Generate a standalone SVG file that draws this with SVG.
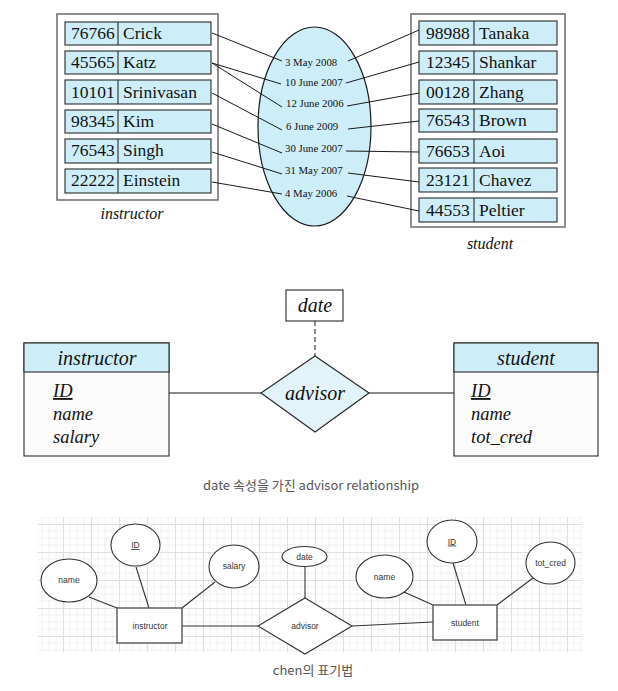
<svg xmlns="http://www.w3.org/2000/svg" width="618" height="691" viewBox="0 0 618 691">
  <style>
    .bg { fill: #ffffff; }
    .outer { fill: #ffffff; stroke: #6a6a6a; stroke-width: 1.5; }
    .row { fill: #cdeef9; stroke: #2a2a2a; stroke-width: 1.1; }
    .div { stroke: #2a2a2a; stroke-width: 1.1; }
    .cell { font-family: "Liberation Serif", "DejaVu Serif", serif; font-size: 17.5px; fill: #111; }
    .date { font-family: "Liberation Serif", "DejaVu Serif", serif; font-size: 10.8px; fill: #111; }
    .lbl { font-family: "Liberation Serif", "DejaVu Serif", serif; font-style: italic; font-size: 16px; fill: #111; }
    .conn { stroke: #1a1a1a; stroke-width: 1; fill: none; }
    .ent-h { fill: #cdeef9; stroke: #2a2a2a; stroke-width: 1.1; }
    .ent-b { fill: #fcfcfc; stroke: #2a2a2a; stroke-width: 1.1; }
    .ent-t { font-family: "Liberation Serif", "DejaVu Serif", serif; font-style: italic; font-size: 20px; fill: #111; }
    .att { font-family: "Liberation Serif", "DejaVu Serif", serif; font-style: italic; font-size: 18.5px; fill: #111; }
    .cap { font-family: "Noto Sans CJK KR", "Noto Sans", sans-serif; font-size: 13px; fill: #555; }
    .c-shape { fill: #ffffff; stroke: #333; stroke-width: 1.1; }
    .c-rect { fill: #ffffff; stroke: #555; stroke-width: 1.4; }
    .c-line { stroke: #333; stroke-width: 1.1; fill: none; }
    .c-txt { font-family: "Liberation Sans", Arial, sans-serif; font-size: 8.5px; fill: #333; text-anchor: middle; }
  </style>
  <defs>
    <pattern id="grid" patternUnits="userSpaceOnUse" x="35" y="524" width="28" height="28">
      <path d="M7 0V28M14 0V28M21 0V28M0 7H28M0 14H28M0 21H28" stroke="#efefef" stroke-width="1"/>
      <path d="M0.5 0V28M0 0.5H28" stroke="#dedede" stroke-width="1"/>
    </pattern>
  </defs>

  <rect class="bg" x="0" y="0" width="618" height="691"/>

  <!-- ===== instance diagram: instructor / advisor dates / student ===== -->
  <g id="instructor-set">
    <rect class="outer" x="57" y="14" width="161" height="186"/>
    <g>
      <rect class="row" x="65" y="22" width="146" height="23"/><line class="div" x1="118" y1="22" x2="118" y2="45"/>
      <text class="cell" x="71" y="39">76766</text><text class="cell" x="123" y="39">Crick</text>
      <rect class="row" x="65" y="51" width="146" height="23"/><line class="div" x1="118" y1="51" x2="118" y2="74"/>
      <text class="cell" x="71" y="68">45565</text><text class="cell" x="123" y="68">Katz</text>
      <rect class="row" x="65" y="80" width="146" height="24"/><line class="div" x1="118" y1="80" x2="118" y2="104"/>
      <text class="cell" x="71" y="98">10101</text><text class="cell" x="123" y="98">Srinivasan</text>
      <rect class="row" x="65" y="110" width="146" height="23"/><line class="div" x1="118" y1="110" x2="118" y2="133"/>
      <text class="cell" x="71" y="127">98345</text><text class="cell" x="123" y="127">Kim</text>
      <rect class="row" x="65" y="139" width="146" height="24"/><line class="div" x1="118" y1="139" x2="118" y2="163"/>
      <text class="cell" x="71" y="156">76543</text><text class="cell" x="123" y="156">Singh</text>
      <rect class="row" x="65" y="169" width="146" height="24"/><line class="div" x1="118" y1="169" x2="118" y2="193"/>
      <text class="cell" x="71" y="186">22222</text><text class="cell" x="123" y="186">Einstein</text>
    </g>
    <text class="lbl" x="132" y="219" text-anchor="middle">instructor</text>
  </g>

  <g id="advisor-set">
    <ellipse cx="314.5" cy="126.5" rx="56.5" ry="99.5" fill="#cdeef9" stroke="#1a1a1a" stroke-width="1.2"/>
    <text class="date" x="285" y="66">3 May 2008</text>
    <text class="date" x="285" y="86">10 June 2007</text>
    <text class="date" x="286" y="107">12 June 2006</text>
    <text class="date" x="286" y="130">6 June 2009</text>
    <text class="date" x="285" y="152">30 June 2007</text>
    <text class="date" x="285" y="174">31 May 2007</text>
    <text class="date" x="285" y="197">4 May 2006</text>
  </g>

  <g id="student-set">
    <rect class="outer" x="411" y="14" width="154" height="213"/>
    <g>
      <rect class="row" x="419" y="21" width="138" height="24"/><line class="div" x1="474" y1="21" x2="474" y2="45"/>
      <text class="cell" x="426" y="39">98988</text><text class="cell" x="479" y="39">Tanaka</text>
      <rect class="row" x="419" y="51" width="138" height="23"/><line class="div" x1="474" y1="51" x2="474" y2="74"/>
      <text class="cell" x="426" y="68">12345</text><text class="cell" x="479" y="68">Shankar</text>
      <rect class="row" x="419" y="80" width="138" height="24"/><line class="div" x1="474" y1="80" x2="474" y2="104"/>
      <text class="cell" x="426" y="98">00128</text><text class="cell" x="479" y="98">Zhang</text>
      <rect class="row" x="419" y="109" width="138" height="23"/><line class="div" x1="474" y1="109" x2="474" y2="132"/>
      <text class="cell" x="426" y="126">76543</text><text class="cell" x="479" y="126">Brown</text>
      <rect class="row" x="419" y="139" width="138" height="24"/><line class="div" x1="474" y1="139" x2="474" y2="163"/>
      <text class="cell" x="426" y="157">76653</text><text class="cell" x="479" y="157">Aoi</text>
      <rect class="row" x="419" y="168" width="138" height="24"/><line class="div" x1="474" y1="168" x2="474" y2="192"/>
      <text class="cell" x="426" y="186">23121</text><text class="cell" x="479" y="186">Chavez</text>
      <rect class="row" x="419" y="198" width="138" height="24"/><line class="div" x1="474" y1="198" x2="474" y2="222"/>
      <text class="cell" x="426" y="216">44553</text><text class="cell" x="479" y="216">Peltier</text>
    </g>
    <text class="lbl" x="490" y="249" text-anchor="middle">student</text>
  </g>

  <g id="instance-links">
    <line class="conn" x1="212" y1="33" x2="282" y2="61"/>
    <line class="conn" x1="212" y1="63" x2="281" y2="84"/>
    <line class="conn" x1="212" y1="63" x2="282" y2="107"/>
    <line class="conn" x1="212" y1="93" x2="282" y2="130"/>
    <line class="conn" x1="212" y1="124" x2="282" y2="153"/>
    <line class="conn" x1="212" y1="152" x2="282" y2="174"/>
    <line class="conn" x1="212" y1="182" x2="282" y2="194"/>
    <line class="conn" x1="348" y1="61" x2="419" y2="30"/>
    <line class="conn" x1="346" y1="83" x2="419" y2="62"/>
    <line class="conn" x1="347" y1="106" x2="419" y2="93"/>
    <line class="conn" x1="348" y1="129" x2="419" y2="121"/>
    <line class="conn" x1="346" y1="151" x2="419" y2="152"/>
    <line class="conn" x1="348" y1="173" x2="419" y2="182"/>
    <line class="conn" x1="347" y1="196" x2="419" y2="211"/>
  </g>

  <!-- ===== E-R diagram with a relationship attribute ===== -->
  <g id="er-links">
    <line class="conn" x1="169" y1="393" x2="261" y2="393" stroke-width="1.2"/>
    <line class="conn" x1="369" y1="393" x2="454" y2="393" stroke-width="1.2"/>
    <line class="conn" x1="315" y1="321" x2="315" y2="356" stroke="#555" stroke-width="1.2" stroke-dasharray="5,3"/>
  </g>

  <g id="er-instructor">
    <rect class="ent-b" x="24" y="343" width="145" height="113"/>
    <rect class="ent-h" x="24" y="343" width="145" height="29"/>
    <text class="ent-t" x="97" y="365" text-anchor="middle">instructor</text>
    <text class="att" x="53" y="397" text-decoration="underline">ID</text>
    <text class="att" x="53" y="420">name</text>
    <text class="att" x="53" y="443">salary</text>
  </g>

  <g id="er-student">
    <rect class="ent-b" x="454" y="343" width="144" height="113"/>
    <rect class="ent-h" x="454" y="343" width="144" height="29"/>
    <text class="ent-t" x="526" y="365" text-anchor="middle">student</text>
    <text class="att" x="471" y="397" text-decoration="underline">ID</text>
    <text class="att" x="471" y="420">name</text>
    <text class="att" x="471" y="443">tot_cred</text>
  </g>

  <g id="er-advisor">
    <polygon points="315,356 369,393 315,432 261,393" fill="#e3f3fa" stroke="#2a2a2a" stroke-width="1.2"/>
    <text class="ent-t" x="315" y="400" text-anchor="middle" font-size="19">advisor</text>
  </g>

  <g id="er-date">
    <rect x="286" y="290" width="57" height="31" fill="#ffffff" stroke="#2a2a2a" stroke-width="1.1"/>
    <text class="ent-t" x="315" y="312" text-anchor="middle" font-size="17">date</text>
  </g>

  <text class="cap" x="311" y="490" text-anchor="middle">date 속성을 가진 advisor relationship</text>

  <!-- ===== Chen notation ===== -->
  <rect x="38" y="517" width="544" height="135" fill="url(#grid)"/>

  <g id="chen-links">
    <line class="c-line" x1="89" y1="597" x2="117" y2="608"/>
    <line class="c-line" x1="136" y1="567" x2="149" y2="608"/>
    <line class="c-line" x1="215" y1="582" x2="182" y2="608"/>
    <line class="c-line" x1="182" y1="626" x2="258" y2="626"/>
    <line class="c-line" x1="305" y1="566" x2="305" y2="598"/>
    <line class="c-line" x1="352" y1="626" x2="433" y2="622"/>
    <line class="c-line" x1="404" y1="592" x2="433" y2="605"/>
    <line class="c-line" x1="453" y1="563" x2="466" y2="605"/>
    <line class="c-line" x1="533" y1="578" x2="497" y2="605"/>
  </g>

  <g id="chen-instructor">
    <rect class="c-rect" x="117" y="608" width="65" height="35"/>
    <text class="c-txt" x="150" y="629">instructor</text>
  </g>
  <g id="chen-instructor-name">
    <ellipse class="c-shape" cx="69" cy="580.5" rx="28" ry="21.5"/>
    <text class="c-txt" x="69" y="583">name</text>
  </g>
  <g id="chen-instructor-id">
    <ellipse class="c-shape" cx="135.5" cy="545" rx="24.5" ry="21"/>
    <text class="c-txt" x="135.5" y="548" text-decoration="underline">ID</text>
  </g>
  <g id="chen-instructor-salary">
    <ellipse class="c-shape" cx="234" cy="566.5" rx="25" ry="21.5"/>
    <text class="c-txt" x="234" y="569">salary</text>
  </g>

  <g id="chen-advisor">
    <polygon class="c-shape" points="305,598 352,626 305,654 258,626"/>
    <text class="c-txt" x="305" y="629">advisor</text>
  </g>
  <g id="chen-date">
    <ellipse class="c-shape" cx="304.5" cy="556.5" rx="22.5" ry="10"/>
    <text class="c-txt" x="304.5" y="559.5">date</text>
  </g>

  <g id="chen-student">
    <rect class="c-rect" x="433" y="605" width="64" height="35"/>
    <text class="c-txt" x="465" y="626">student</text>
  </g>
  <g id="chen-student-name">
    <ellipse class="c-shape" cx="384.5" cy="576.5" rx="28.5" ry="21.5"/>
    <text class="c-txt" x="384.5" y="579.5">name</text>
  </g>
  <g id="chen-student-id">
    <ellipse class="c-shape" cx="452" cy="541.5" rx="25" ry="21.5"/>
    <text class="c-txt" x="452" y="544.5" text-decoration="underline" fill="#2b5c9e">ID</text>
  </g>
  <g id="chen-student-totcred">
    <ellipse class="c-shape" cx="550.5" cy="563" rx="24.5" ry="21"/>
    <text class="c-txt" x="550.5" y="566">tot_cred</text>
  </g>

  <text class="cap" x="313" y="675" text-anchor="middle" font-size="14">chen의 표기법</text>
</svg>
